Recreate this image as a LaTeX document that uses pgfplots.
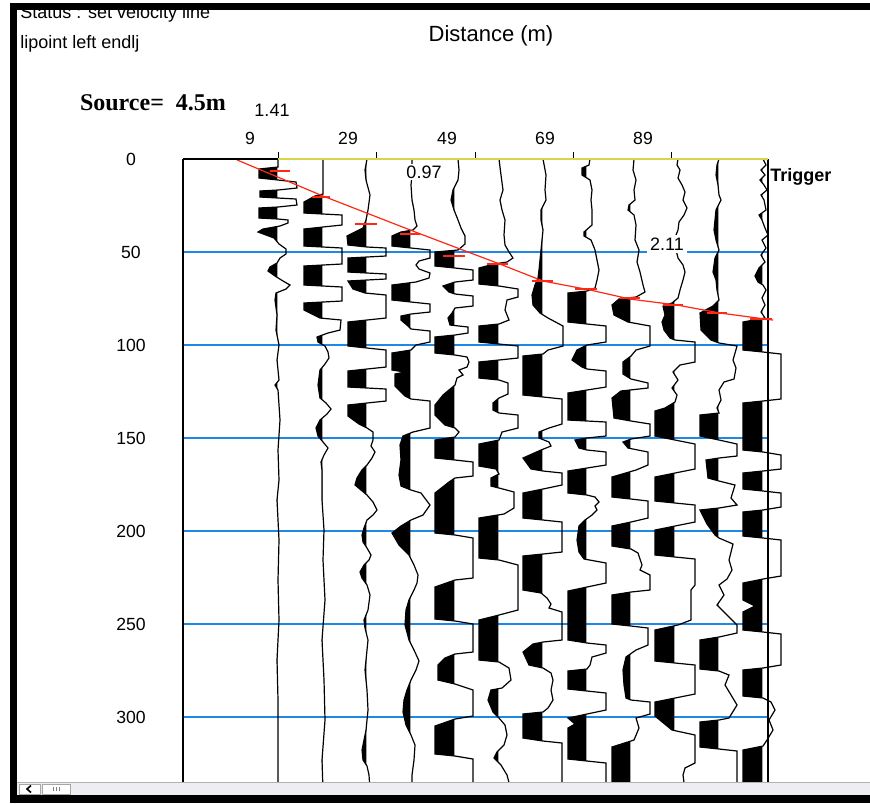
\documentclass[border=0pt]{standalone}
\usepackage{pgfplots}
\pgfplotsset{compat=1.18}
\usepackage{pgfplotstable}
\usepackage{fontspec}
\setmainfont{Liberation Sans}
\newfontfamily\timesf{Liberation Serif}
\definecolor{gblue}{RGB}{30,136,229}
\definecolor{ayellow}{RGB}{214,214,72}
\definecolor{vred}{RGB}{255,40,20}
\definecolor{sbgrey}{RGB}{238,238,242}

% traces: py = screen row (time = (py-159)/1.86 ms), dx = deflection in px
\pgfplotstableread{
py dx
159 0
167 0
169 -19
178 -19
180 0
182 18
188 19
190 0
191 -18
197 -18
198 0
199 18
205 19
207 0
208 -19
218 -19
219 0
220 10
223 10
226 2
229 -15
232 -20
238 -4
244 1
249 8
254 8
258 2
263 -1
267 -8
271 -10
276 -3
281 5
285 12
289 8
293 -2
300 -3
315 -1
330 -2
345 1
360 -1
380 1
385 -3
390 0
420 2
450 0
480 1
500 -1
540 1
580 0
620 1
660 -1
700 0
790 0
795 0
}\tA
\pgfplotstableread{
py dx
159 0
194 0
196 -8
202 -19
213 -19
214 0
215 19
225 19
227 0
229 -19
246 -19
247 0
248 19
264 19
265 0
266 -19
285 -19
286 0
287 19
301 19
302 0
303 -19
310 -19
318 -3
320 18
330 17
333 5
337 -6
342 -5
346 2
352 5
358 6
364 2
370 -3
385 -5
398 -3
403 3
409 8
414 4
420 -3
428 -7
436 -5
442 0
448 5
455 1
462 -2
470 -1
500 -1
530 1
560 0
600 2
640 -1
680 1
720 2
760 -1
790 0
795 0
}\tB
\pgfplotstableread{
py dx
159 0
170 -2
180 -1
195 3
210 1
220 -1
228 -4
236 -20
245 -19
247 0
248 19
256 19
257 0
258 -19
272 -19
273 0
274 19
279 19
280 0
281 -19
289 -14
293 -2
295 19
318 19
320 0
322 -19
346 -19
348 0
350 19
367 19
369 0
371 -19
387 -19
388 0
389 19
401 19
403 0
405 -19
416 -19
424 -8
428 0
432 6
440 6
446 4
452 8
458 5
465 0
470 -5
478 -10
485 -12
490 -6
495 0
502 6
510 10
515 6
520 0
528 -3
535 -5
542 -4
548 0
555 4
560 2
565 -3
572 -7
578 -5
585 0
595 3
610 1
620 -3
628 -2
640 1
660 -1
670 -2
690 0
710 1
730 -1
740 -3
750 -5
760 -4
766 0
775 2
790 3
795 0
}\tC
\pgfplotstableread{
py dx
159 1
175 1
185 0
200 1
210 3
220 4
226 6
230 2
232 -10
236 -19
246 -19
248 0
250 19
258 19
261 8
265 5
269 8
273 19
278 18
282 5
285 -19
300 -19
302 0
304 19
312 19
314 0
316 -10
320 -10
326 -3
329 0
331 19
342 19
345 5
350 0
353 -19
370 -19
372 -6
374 -16
386 -16
396 -6
399 0
401 19
428 19
432 2
436 -8
445 -11
460 -10
475 -12
486 -10
490 0
493 10
505 19
515 12
520 0
526 -10
533 -19
545 -12
555 -2
565 3
575 7
583 6
590 3
600 -2
610 -5
625 -6
640 -2
650 3
661 8
670 5
680 0
690 -4
700 -7
712 -8
725 -5
735 0
745 4
760 3
775 1
790 1
795 0
}\tD
\pgfplotstableread{
py dx
159 3
170 4
180 3
190 -2
200 -4
210 -1
220 3
228 6
236 10
244 10
250 3
252 -20
266 -20
268 0
270 18
280 18
282 0
286 -12
292 -6
294 0
296 18
306 18
308 0
313 -3
318 -7
325 -5
327 13
333 13
335 0
337 -20
353 -20
355 0
357 12
362 14
367 12
370 4
375 8
378 2
385 0
395 -12
405 -20
415 -20
425 -10
428 0
432 4
437 0
440 -20
458 -20
460 0
462 18
476 18
478 0
482 -6
493 -20
533 -20
535 0
538 18
578 18
580 0
587 -20
619 -20
621 0
624 18
652 18
654 0
658 -10
665 -17
680 -17
684 0
690 18
716 18
719 0
726 -20
754 -20
756 0
759 18
790 18
795 0
}\tE
\pgfplotstableread{
py dx
159 0
175 2
190 4
200 1
210 3
220 6
235 5
245 6
252 10
258 14
262 8
264 -5
268 -20
284 -20
286 0
289 19
297 19
300 8
310 6
320 10
324 0
326 -20
342 -20
344 0
346 19
358 19
360 0
362 -20
378 -20
380 0
383 9
394 9
398 0
403 -6
410 -6
413 0
415 19
428 19
432 3
440 0
444 -20
466 -20
469 -3
474 0
478 -8
486 -8
488 0
492 15
508 15
514 5
518 -20
558 -20
560 0
565 19
610 19
615 0
620 -20
660 -20
662 0
668 10
680 12
688 3
690 -8
700 -11
712 -6
718 0
725 6
735 8
745 5
752 -2
758 -5
765 2
775 8
790 12
795 0
}\tF
\pgfplotstableread{
py dx
159 0
175 3
190 2
200 3
210 -2
220 -2
230 0
240 -1
250 -2
260 -3
270 -4
278 -5
285 -8
295 -11
305 -10
313 -3
318 5
326 20
346 20
350 5
354 0
356 -20
395 -20
397 0
399 19
424 19
428 6
432 -4
438 -4
442 6
446 8
450 -2
458 -20
469 -12
471 0
473 19
485 19
489 0
493 -20
518 -20
520 0
522 19
552 19
554 0
556 -20
590 -20
593 -2
598 4
604 8
608 6
612 19
640 19
642 0
644 -10
652 -20
665 -14
668 0
673 8
680 10
690 8
700 10
708 5
712 0
714 -20
738 -20
741 0
743 19
790 19
795 0
}\tG
\pgfplotstableread{
py dx
159 3
165 2
168 -5
175 -5
180 3
190 5
200 4
210 5
225 5
232 -3
236 -3
240 4
250 8
260 10
270 12
280 10
288 8
291 0
293 -19
322 -19
324 0
326 19
342 19
345 0
350 -10
360 -15
367 -5
369 0
371 19
387 19
390 0
393 -19
420 -19
421 0
422 19
436 19
438 0
440 -12
448 -8
450 0
452 19
465 19
468 0
471 -19
493 -19
495 0
497 8
502 12
506 8
510 10
515 5
520 -2
526 -8
540 -10
552 -8
559 -3
563 19
583 19
587 0
591 -19
640 -19
643 0
645 19
653 19
657 5
665 3
669 0
671 -19
689 -19
691 0
693 19
710 19
714 0
718 -19
724 -12
728 -19
759 -19
761 0
763 19
790 19
795 0
}\tH
\pgfplotstableread{
py dx
159 3
170 2
180 5
190 3
200 4
205 -2
210 -3
215 3
225 5
240 4
250 8
262 6
272 9
285 12
292 14
297 5
299 -12
305 -19
315 -17
322 -3
326 19
346 19
350 5
356 0
362 -8
374 -8
379 0
383 17
388 17
391 -10
398 -19
418 -17
421 0
424 19
436 19
439 0
442 -8
448 -3
452 17
465 17
470 5
477 -19
497 -19
499 0
501 17
518 17
522 0
526 -19
546 -19
549 0
553 7
565 11
570 9
575 19
590 19
592 0
595 -19
624 -19
626 0
628 17
645 17
650 5
657 -5
670 -8
685 -7
698 -5
700 0
702 19
714 19
718 5
728 8
740 3
747 -19
790 -19
795 0
}\tI
\pgfplotstableread{
py dx
159 3
165 2
170 5
178 3
185 7
192 10
200 8
208 12
215 9
222 4
230 3
240 -1
250 1
258 3
265 8
272 10
280 8
290 5
298 3
303 -3
306 -12
315 -10
322 -13
330 -11
338 -5
340 0
342 20
362 20
365 5
372 -2
380 3
388 -3
395 2
402 0
408 -10
411 -20
436 -20
440 0
444 20
469 20
473 0
477 -20
501 -20
503 0
505 20
522 20
526 0
530 -20
555 -20
557 0
559 20
585 20
590 16
620 16
625 3
630 -20
661 -20
663 0
665 20
694 20
698 0
702 -20
716 -20
730 -3
735 20
763 20
768 10
775 8
790 10
795 0
}\tJ
\pgfplotstableread{
py dx
159 0
165 -2
175 -3
185 -1
195 0
200 2
210 -3
220 -4
230 -5
240 -3
250 0
258 -4
265 -5
272 -6
280 -3
290 -2
300 0
306 -6
313 -19
330 -18
340 -8
343 0
346 18
360 14
368 17
379 15
382 5
390 0
400 2
408 -2
413 0
415 -19
436 -19
440 0
444 18
456 18
458 0
460 -13
478 -11
481 0
485 16
498 12
505 18
508 0
510 -19
524 -12
535 -4
538 0
544 14
560 10
570 13
579 8
585 0
595 5
605 -2
615 8
625 18
633 18
637 0
640 -19
669 -19
671 0
675 10
685 6
695 12
705 18
718 10
720 0
722 -19
747 -19
749 0
751 18
790 18
795 0
}\tK
\pgfplotstableread{
py dx
159 0
165 3
170 -2
175 2
180 -3
185 1
190 4
195 -2
200 1
210 3
215 -4
220 -1
228 2
235 5
240 -1
248 3
255 -2
262 2
268 -4
276 -8
282 -5
285 0
290 3
298 -1
305 2
312 -2
318 2
322 -20
350 -20
352 0
354 18
399 18
401 0
403 -20
450 -20
452 0
455 18
469 18
471 0
473 -20
489 -20
491 0
493 18
507 18
510 0
512 -20
536 -20
538 0
540 18
576 18
579 0
583 -20
600 -20
606 -8
612 -20
630 -20
632 0
634 18
665 18
668 0
670 -20
696 -20
698 0
702 8
710 12
720 6
730 10
740 4
746 0
750 -20
790 -20
795 0
}\tL
% first-break picks (x in px, t in ms)
\pgfplotstableread{
x t
270 6.45
290 6.45
nan nan
312 20.43
330 20.43
nan nan
355 34.95
377 34.95
nan nan
400 40.32
420 40.32
nan nan
443 52.15
465 52.15
nan nan
487 56.45
508 56.45
nan nan
532 65.59
553 65.59
nan nan
575 69.89
597 69.89
nan nan
620 74.73
640 74.73
nan nan
663 78.49
683 78.49
nan nan
707 82.80
727 82.80
nan nan
750 86.02
772 86.02
}\picks

% #1 baseline, #2 clip edge (just left of baseline), #3 table
\newcommand{\wig}[3]{%
\begin{scope}
\clip (axis cs:183,-5) rectangle (axis cs:#2,340);
\addplot[fill=black, draw=none] table[x expr={#1+\thisrow{dx}}, y expr={(\thisrow{py}-159)/1.86}] {#3};
\end{scope}
\addplot[black, line width=0.6pt] table[x expr={#1+\thisrow{dx}}, y expr={(\thisrow{py}-159)/1.86}] {#3};
}

\begin{document}
\begin{tikzpicture}
\useasboundingbox (0pt,0pt) rectangle (435pt,-401.5pt);
\fill[white] (0pt,0pt) rectangle (435pt,-401.5pt);
\begin{axis}[
  at={(91.5pt,-79.5pt)}, anchor=north west,
  x=0.5pt, y=0.93pt, y dir=reverse,
  xmin=183, xmax=790, ymin=0, ymax=334.9,
  axis line style={draw=none},
  clip mode=individual,
  xtick={278,376,475,573,671}, xticklabels={9,29,49,69,89},
  xtick pos=right, xticklabel pos=right,
  tick align=outside, major tick length=3.5pt,
  xtick style={black, line width=0.5pt},
  ytick={0,50,100,150,200,250,300}, yticklabels={0,50,100,150,200,250,300},
  ytick pos=left, ytick style={draw=none},
  tick label style={font=\fontsize{8.8}{10}\selectfont},
  xticklabel style={anchor=center, xshift=-14pt, yshift=7pt},
  yticklabel style={anchor=center, xshift=-22.5pt},
]
% time lines
\addplot[gblue, line width=0.6pt] coordinates {(183,50) (768,50)};
\addplot[gblue, line width=0.6pt] coordinates {(183,100) (768,100)};
\addplot[gblue, line width=0.6pt] coordinates {(183,150) (768,150)};
\addplot[gblue, line width=0.6pt] coordinates {(183,200) (768,200)};
\addplot[gblue, line width=0.6pt] coordinates {(183,250) (768,250)};
\addplot[gblue, line width=0.6pt] coordinates {(183,300) (768,300)};
% trigger trace
\addplot[black, line width=0.6pt] coordinates {(768,0) (768,334.9)};
% wiggle traces
\wig{278}{277.4}{\tA}
\wig{323}{322.4}{\tB}
\wig{367}{366.4}{\tC}
\wig{411}{410.4}{\tD}
\wig{455}{454.4}{\tE}
\wig{499}{498.4}{\tF}
\wig{543}{542.4}{\tG}
\wig{587}{586.4}{\tH}
\wig{631}{630.4}{\tI}
\wig{675}{674.4}{\tJ}
\wig{719}{718.4}{\tK}
\wig{763}{762.4}{\tL}
% velocity line and picks
\addplot[vred, line width=0.6pt] coordinates {(237,0.5) (323,19.9) (418,39.8) (468,50.0) (500,56.5) (543,65.6) (590,70.4) (630,75.3) (677,78.5) (720,82.8) (773,86.6)};
\addplot[vred, line width=0.8pt, unbounded coords=jump] table[x=x, y=t] {\picks};
\end{axis}
\begin{scope}[x=0.5pt, y=-0.5pt]
% frame
\draw[black, line width=0.6pt] (183,159) -- (278,159);
\draw[ayellow, line width=1pt] (278,159) -- (768,159);
\draw[black, line width=0.6pt] (183,159) -- (183,782);
% texts
\node[anchor=west, inner sep=0pt, font=\fontsize{9}{10}\selectfont] at (20,14) {Status : set velocity line};
\node[anchor=west, inner sep=0pt, font=\fontsize{9}{10}\selectfont] at (20,44) {lipoint left endlj};
\node[inner sep=0pt, font=\timesf\bfseries\fontsize{12}{14}\selectfont] at (153,103) {Source=\ \ 4.5m};
\node[inner sep=0pt, font=\fontsize{9}{10}\selectfont] at (272,110) {1.41};
\node[inner sep=0pt, font=\fontsize{11}{13}\selectfont] at (491,36) {Distance (m)};
\node[fill=white, inner sep=1pt, font=\fontsize{9}{10}\selectfont] at (424,172) {0.97};
\node[fill=white, inner sep=1.5pt, font=\fontsize{9}{10}\selectfont] at (667,244) {2.11};
\node[anchor=west, inner sep=0pt, font=\bfseries\fontsize{9}{10}\selectfont] at (770,177) {Trigger};
% window chrome
\fill[sbgrey] (17,782) rectangle (870,795);
\draw[gray!60, line width=0.4pt] (17,782) -- (870,782);
\draw[gray!70, fill=white, line width=0.4pt] (19,784) rectangle (40,794);
\draw[black, line width=0.8pt] (31,785.5) -- (27,789) -- (31,792.5);
\draw[gray!70, fill=white, line width=0.4pt] (42,784) rectangle (70,794);
\draw[gray, line width=0.3pt] (53,787) -- (53,791) (56,787) -- (56,791) (59,787) -- (59,791);
\fill[black] (10,3) rectangle (870,10);
\fill[black] (10,3) rectangle (17,803);
\fill[black] (10,795) rectangle (870,803);
\end{scope}
\end{tikzpicture}
\end{document}
